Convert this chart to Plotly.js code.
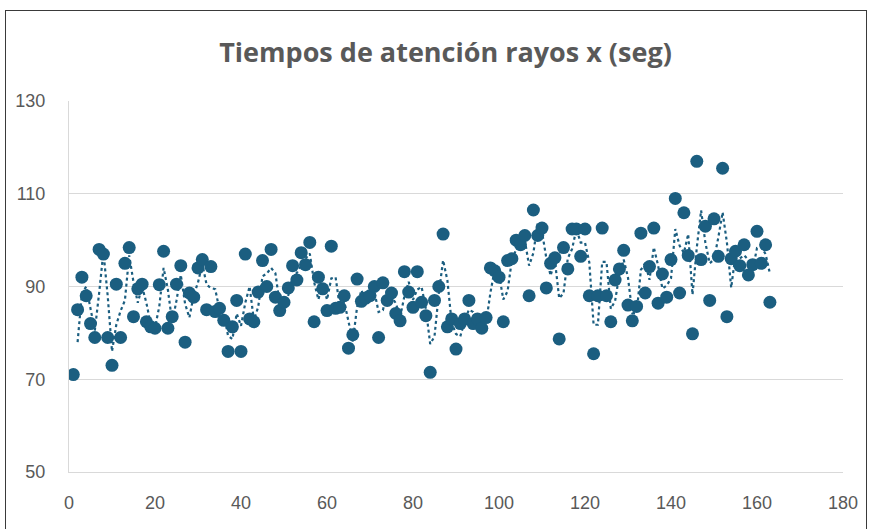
<!DOCTYPE html>
<html>
<head>
<meta charset="utf-8">
<script src="https://cdn.plot.ly/plotly-3.0.1.min.js"></script>
<style>
  html, body { margin: 0; padding: 0; background: #ffffff; overflow: hidden; }
  #chart { width: 877px; height: 529px; }
  #frame { position: absolute; left: 5px; top: 10px; width: 860px; height: 540px; border: 1px solid #3a3a3a; pointer-events: none; }
</style>
</head>
<body>
<div id="chart"></div>
<div id="frame"></div>
<script>
const chartTitle = "Tiempos de atención rayos x (seg)";
const tiempos = [
  71, 85, 92, 88, 82, 79, 98, 97, 79, 73,
  90.5, 79, 95, 98.4, 83.5, 89.5, 90.5, 82.4, 81.3, 81,
  90.4, 97.6, 81, 83.5, 90.5, 94.5, 78, 88.6, 87.7, 94,
  95.8, 85, 94.3, 84.6, 85.3, 82.7, 76, 81.3, 87, 76,
  97, 83, 82.4, 88.8, 95.6, 90, 98, 87.7, 84.8, 86.6,
  89.7, 94.5, 91.4, 97.3, 94.7, 99.5, 82.4, 92, 89.5, 84.8,
  98.7, 85.3, 85.5, 88, 76.7, 79.6, 91.6, 86.8, 87.5, 88,
  90, 79, 90.8, 87, 88.6, 84.2, 82.6, 93.2, 88.8, 85.5,
  93.2, 86.6, 83.7, 71.5, 87, 90, 101.3, 81.3, 83, 76.5,
  82, 83, 87, 82, 83, 81, 83.3, 94, 93.4, 92,
  82.4, 95.6, 96, 100, 99, 101, 88, 106.5, 101, 102.6,
  89.7, 95, 96.2, 78.7, 98.4, 93.8, 102.4, 102.4, 96.5, 102.4,
  88, 75.5, 88, 102.6, 88, 82.4, 91.4, 93.8, 97.8, 86,
  82.6, 85.7, 101.5, 88.6, 94.3, 102.6, 86.4, 92.7, 87.7, 95.8,
  109, 88.6, 105.9, 96.7, 79.8, 117, 95.8, 103, 87, 104.6,
  96.5, 115.5, 83.5, 96, 97.6, 94.5, 99, 92.5, 94.7, 101.9,
  95, 99, 86.6
];
const observacion = tiempos.map((_, i) => i + 1);

// 2-period moving average trendline (as in the original chart)
const maX = [], maY = [];
for (let i = 1; i < tiempos.length; i++) {
  maX.push(observacion[i]);
  maY.push((tiempos[i] + tiempos[i - 1]) / 2);
}

const color = "#1b5e80";
const traces = [
  {
    x: maX, y: maY, type: "scatter", mode: "lines",
    line: { color: color, width: 2.2, dash: "dot" },
    hoverinfo: "skip", showlegend: false
  },
  {
    x: observacion, y: tiempos, type: "scatter", mode: "markers",
    marker: { color: color, size: 13 },
    showlegend: false
  }
];

const tickFont = { family: "Liberation Sans, Arial, sans-serif", size: 18, color: "#595959" };
const layout = {
  width: 877, height: 529,
  margin: { l: 69, r: 34, t: 101, b: 57 },
  paper_bgcolor: "#ffffff", plot_bgcolor: "#ffffff",
  title: {
    text: chartTitle,
    x: 0.508, xanchor: "center", y: 0.9, yanchor: "middle",
    font: { family: "Open Sans, Roboto, Arial, sans-serif", size: 27, color: "#595959", weight: "bold" }
  },
  xaxis: {
    range: [0, 180], dtick: 20, tick0: 0,
    showgrid: false, zeroline: false,
    showline: true, linecolor: "#d9d9d9", linewidth: 1,
    ticks: "", ticklabelstandoff: 14, tickfont: tickFont
  },
  yaxis: {
    range: [50, 130], dtick: 20, tick0: 50,
    showgrid: true, gridcolor: "#d9d9d9", gridwidth: 1,
    zeroline: false, showline: true, linecolor: "#d9d9d9", linewidth: 1,
    ticks: "", ticklabelstandoff: 19, tickfont: tickFont
  }
};

Plotly.newPlot("chart", traces, layout, { displayModeBar: false, staticPlot: true });
</script>
</body>
</html>
